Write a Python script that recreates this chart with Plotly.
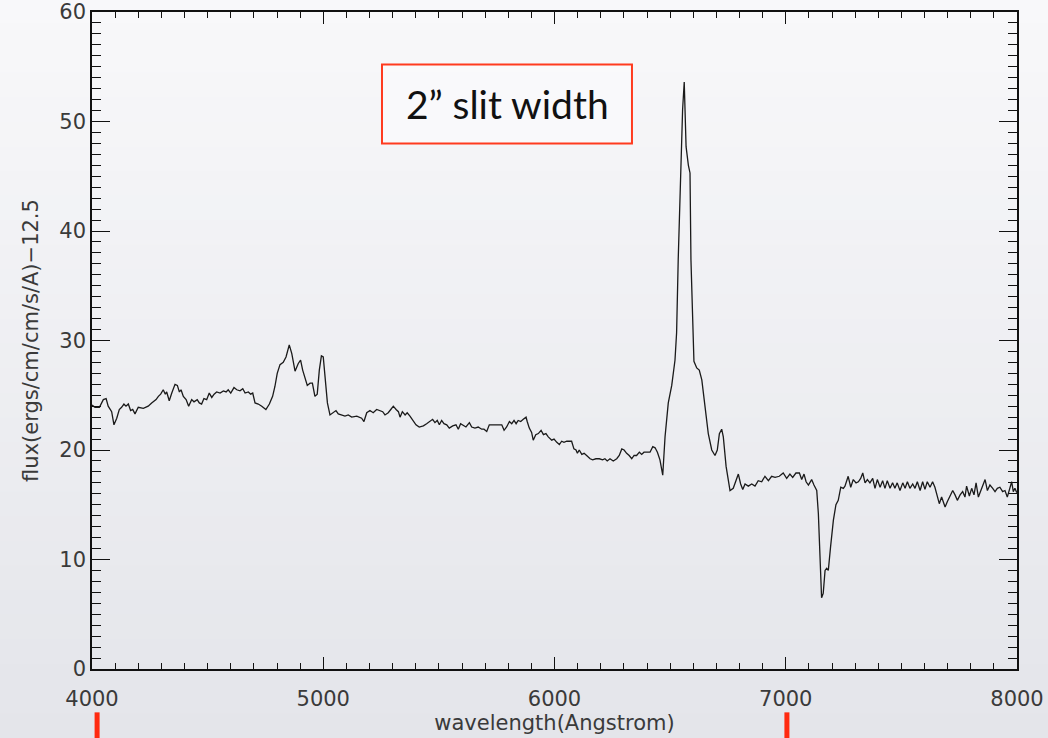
import plotly.graph_objects as go

wavelength = [
    4000, 4013, 4032, 4049, 4061, 4070, 4085, 4095, 4107, 4118, 4128, 4138, 4147, 4157, 4167, 4176, 4186, 4200,
    4222, 4243, 4258, 4277, 4287, 4297, 4308, 4317, 4323, 4334, 4345, 4359, 4369, 4378, 4385, 4395, 4407, 4418,
    4431, 4441, 4455, 4464, 4474, 4484, 4496, 4507, 4518, 4528, 4539, 4554, 4568, 4580, 4589, 4600, 4614, 4626,
    4640, 4652, 4662, 4676, 4686, 4695, 4705, 4719, 4734, 4752, 4767, 4781, 4791, 4801, 4813, 4827, 4839, 4853,
    4864, 4878, 4892, 4902, 4911, 4921, 4931, 4943, 4953, 4964, 4974, 4983, 4992, 5000, 5009, 5018, 5029, 5044,
    5055, 5065, 5080, 5094, 5108, 5123, 5145, 5166, 5176, 5188, 5202,
    5216, 5231, 5245, 5257, 5267, 5281, 5292, 5303, 5315, 5325, 5332, 5342, 5354, 5363, 5375, 5387, 5401, 5415,
    5433, 5447, 5462, 5473, 5483, 5493, 5502, 5512, 5522, 5534, 5545, 5560, 5574, 5584, 5594, 5606, 5617, 5632,
    5642, 5656, 5670, 5685, 5695, 5707, 5718, 5735, 5757, 5772, 5782, 5793, 5805, 5815, 5825, 5834, 5843, 5854,
    5865, 5877, 5882, 5891, 5901, 5908, 5919, 5930, 5942, 5952, 5963, 5973, 5988, 5998, 6010, 6021, 6031, 6041,
    6053, 6064, 6074, 6084, 6093, 6099, 6107, 6118, 6128, 6139, 6154, 6165, 6179, 6194, 6208, 6218, 6228, 6240,
    6254, 6269, 6280, 6291, 6301, 6312, 6323, 6334, 6344, 6355, 6367, 6377, 6387, 6399, 6413, 6425, 6435, 6445,
    6456, 6468, 6478, 6492, 6507, 6521, 6528, 6535, 6546, 6554, 6561, 6569, 6579, 6586, 6590, 6598, 6603, 6615,
    6626, 6637, 6651, 6665, 6680, 6694, 6704, 6713, 6723, 6730, 6742, 6759,
    6773, 6788, 6795, 6805, 6814, 6824, 6838, 6853, 6867, 6881, 6896, 6910, 6925, 6939, 6954, 6972, 6989, 7004,
    7018, 7030, 7044, 7059, 7069, 7079, 7088, 7098, 7112, 7122, 7134, 7141, 7148, 7155, 7162, 7170, 7177, 7184,
    7194, 7206, 7217, 7227, 7238, 7249, 7256, 7270, 7281, 7292, 7304, 7314, 7324, 7333, 7343, 7353, 7364, 7376,
    7386, 7396, 7408, 7419, 7429, 7439, 7451, 7462, 7472, 7482, 7494, 7506, 7516, 7526, 7537, 7549, 7559, 7569,
    7581, 7592, 7602, 7612, 7624, 7635, 7645, 7655, 7664, 7674, 7689, 7699, 7710, 7722, 7732, 7742, 7754, 7765,
    7775, 7782, 7794, 7804, 7814, 7823, 7833, 7843, 7852, 7862, 7872, 7883, 7895, 7905, 7915, 7926, 7938, 7948,
    7958, 7967, 7977, 7984, 7991, 7999,
]

flux = [
    24.1, 23.9, 23.9, 24.6, 24.7, 24.0, 23.5, 22.3, 22.9, 23.7, 23.9, 24.2, 24.0, 24.2, 23.6, 23.7, 23.3, 23.9,
    23.8, 24.0, 24.3, 24.6, 24.9, 25.1, 25.5, 25.1, 25.3, 24.5, 25.2, 26.0, 25.9, 25.3, 25.5, 24.9, 24.6, 24.0,
    24.6, 24.4, 24.6, 24.3, 24.2, 24.7, 24.6, 25.2, 24.8, 25.1, 25.3, 25.2, 25.4, 25.3, 25.5, 25.2, 25.7, 25.5,
    25.4, 25.6, 25.2, 25.3, 25.1, 25.2, 24.3, 24.2, 24.0, 23.7, 24.2, 24.9, 25.8, 27.0, 27.8, 28.0, 28.5, 29.6,
    28.8, 27.2, 27.9, 28.2, 27.3, 26.7, 25.9, 26.1, 26.1, 24.9, 25.1, 27.3, 28.6, 28.5, 26.1, 24.3, 23.2, 23.4,
    23.6, 23.3, 23.2, 23.1, 23.2, 23.0, 23.1, 22.9, 22.6, 23.4, 23.6,
    23.4, 23.7, 23.6, 23.5, 23.2, 23.4, 23.7, 24.0, 23.7, 23.5, 23.0, 23.5, 23.2, 23.4, 23.1, 22.7, 22.3, 22.1,
    22.2, 22.4, 22.6, 22.8, 22.5, 22.7, 22.3, 22.7, 22.4, 22.3, 22.0, 22.2, 22.3, 21.9, 22.4, 22.2, 22.1, 22.5,
    22.1, 22.0, 22.1, 21.9, 21.9, 21.7, 22.3, 22.3, 22.3, 22.3, 21.8, 22.1, 22.6, 22.4, 22.7, 22.4, 22.7, 22.6,
    22.8, 23.0, 22.6, 22.0, 21.6, 20.9, 21.4, 21.5, 21.8, 21.4, 21.5, 21.2, 20.9, 21.0, 20.7, 20.5, 20.8, 20.7,
    20.8, 20.8, 20.8, 20.1, 20.0, 19.7, 20.0, 19.6, 19.7, 19.5, 19.2, 19.1, 19.2, 19.2, 19.1, 19.2, 19.0, 19.2,
    19.0, 19.2, 19.5, 20.1, 20.0, 19.7, 19.5, 19.2, 19.5, 19.5, 19.8, 19.6, 19.8, 19.8, 19.8, 20.3, 20.2, 19.8,
    19.1, 17.7, 21.2, 24.3, 25.9, 28.2, 30.7, 37.4, 46.5, 51.1, 53.6, 47.7, 46.0, 45.3, 37.4, 31.3, 28.1, 27.5,
    27.3, 26.4, 24.0, 21.5, 20.0, 19.5, 20.0, 21.5, 21.9, 21.2, 18.5, 16.3,
    16.5, 17.4, 17.8, 16.9, 16.4, 16.9, 16.7, 16.9, 16.7, 17.2, 17.1, 17.6, 17.2, 17.6, 17.5, 17.6, 17.9, 17.4,
    17.8, 17.5, 17.9, 17.9, 17.3, 17.8, 17.1, 16.8, 17.3, 16.8, 16.3, 14.2, 10.6, 6.5, 6.9, 9.0, 9.2, 9.0,
    11.2, 13.6, 15.0, 15.4, 16.6, 16.5, 16.7, 17.6, 16.6, 17.3, 17.0, 17.1, 17.4, 17.9, 17.0, 17.3, 17.0, 17.4,
    16.5, 17.3, 16.6, 17.2, 16.5, 17.2, 16.5, 17.0, 16.5, 17.0, 16.3, 17.0, 16.5, 17.1, 16.5, 16.9, 16.5, 17.1,
    16.3, 17.1, 16.4, 17.1, 16.6, 17.1, 16.6, 15.9, 15.1, 15.7, 14.8, 15.3, 15.8, 16.3, 15.9, 15.4, 15.9, 16.2,
    15.7, 16.7, 15.8, 16.5, 15.9, 17.0, 15.7, 16.2, 16.7, 17.3, 16.3, 16.8, 16.5, 16.2, 16.5, 16.6, 16.2, 16.3,
    15.7, 16.3, 17.1, 16.2, 16.5, 16.1,
]

x_tickvals = [4000, 5000, 6000, 7000, 8000]
y_tickvals = [0, 10, 20, 30, 40, 50, 60]
x_title = "wavelength(Angstrom)"
y_title = "flux(ergs/cm/cm/s/A)\u221212.5"
label_text = "2\u201d slit width"
marker_wavelengths = [4022, 7005]

fig = go.Figure()
fig.add_trace(go.Scatter(
    x=wavelength, y=flux, mode="lines",
    line=dict(color="#1a1a1a", width=1.3),
    showlegend=False, hoverinfo="skip",
))

# background gradient bands (paper coords covering the full page)
shapes = []
n_bands = 30
top = (248, 248, 250)
bot = (228, 229, 234)
y_lo, y_hi = -0.106, 1.02
for i in range(n_bands):
    t = i / (n_bands - 1)
    c = tuple(int(round(top[k] + (bot[k] - top[k]) * t)) for k in range(3))
    y1 = y_hi - (y_hi - y_lo) * i / n_bands
    y0 = y_hi - (y_hi - y_lo) * (i + 1) / n_bands
    shapes.append(dict(type="rect", xref="paper", yref="paper", x0=-0.11, x1=1.04,
                       y0=y0 - 0.001, y1=y1 + 0.001, fillcolor="rgb(%d,%d,%d)" % c,
                       line=dict(width=0), layer="below"))

# label box
shapes.append(dict(type="rect", xref="x", yref="y", x0=5254, x1=6335, y0=48.0, y1=55.2,
                   line=dict(color="#ff3b1f", width=2), fillcolor="rgba(250,250,251,0.9)",
                   layer="above"))

# red markers below axis
for mw in marker_wavelengths:
    shapes.append(dict(type="line", xref="x", yref="paper", x0=mw, x1=mw, y0=-0.066, y1=-0.106,
                       line=dict(color="#ff2a10", width=5)))

fig.add_annotation(x=5795, y=51.6, xref="x", yref="y", text=label_text, showarrow=False,
                   font=dict(family="Lato", size=39, color="#111111"))

axis_common = dict(
    showline=True, linecolor="#111111", linewidth=1.5, mirror="allticks",
    ticks="inside", tickcolor="#111111", tickwidth=1.2,
    showgrid=False, zeroline=False, automargin=False,
    tickfont=dict(family="DejaVu Sans", size=21, color="#3a3a3a"),
)

fig.update_xaxes(
    range=[4000, 8000], tickvals=x_tickvals, ticklen=12, ticklabelstandoff=10,
    minor=dict(ticks="inside", ticklen=6, dtick=100, tickcolor="#111111", tickwidth=1.1),
    title=dict(text=x_title, font=dict(family="DejaVu Sans", size=21, color="#3a3a3a"), standoff=4),
    **axis_common,
)
fig.update_yaxes(
    range=[0, 60], tickvals=y_tickvals, ticklen=18,
    minor=dict(ticks="inside", ticklen=9, dtick=1, tickcolor="#111111", tickwidth=1.1),
    title=dict(text=y_title, font=dict(family="DejaVu Sans", size=21, color="#3a3a3a"), standoff=15),
    **axis_common,
)

fig.update_layout(
    width=1048, height=738,
    margin=dict(l=92, r=31, t=12, b=69, pad=0),
    paper_bgcolor="#eeeef2", plot_bgcolor="rgba(0,0,0,0)",
    shapes=shapes,
)

fig.write_html("out.html")
